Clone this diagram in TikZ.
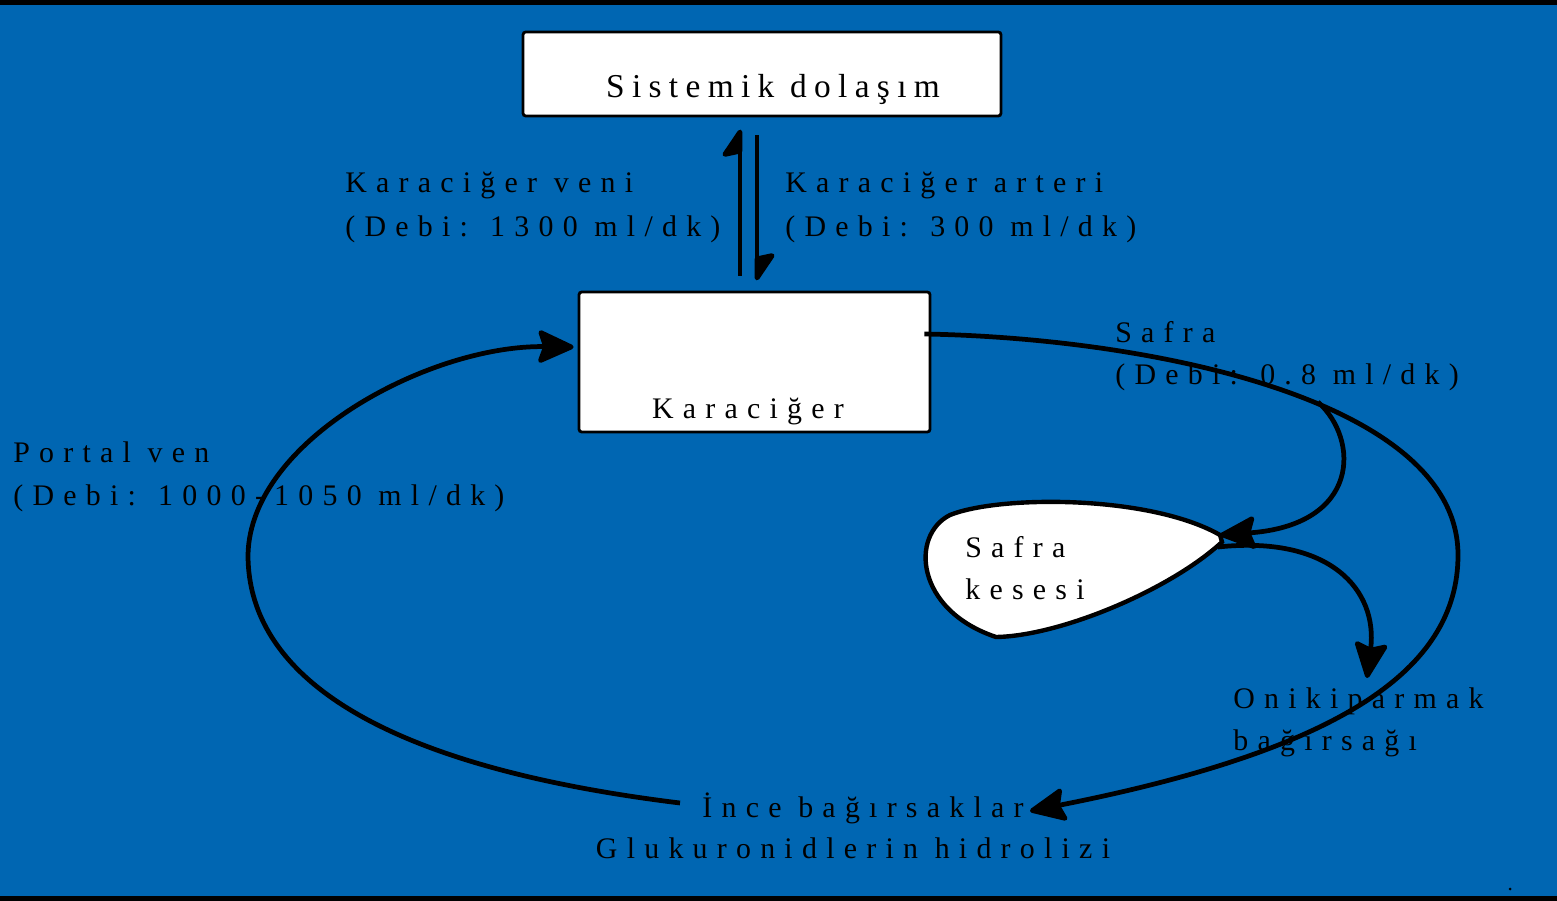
\documentclass[tikz,border=0pt]{standalone}
\usepackage{fontspec}
\setmainfont{Liberation Serif}
\newfontfamily\spacedfont[LetterSpace=31]{Liberation Serif}
\newfontfamily\spacedbig[LetterSpace=22]{Liberation Serif}
\usetikzlibrary{shapes,arrows.meta,positioning,calc}
\definecolor{bgblue}{RGB}{0,102,178}

\begin{document}
\begin{tikzpicture}[x=0.02cm, y=-0.02cm,
    box/.style={rectangle, draw, fill=white, line width=1.6pt, rounded corners=1.5pt},
    lbl/.style={font=\spacedfont\fontsize{17}{20}\selectfont, inner sep=0pt, anchor=base west},
    arrow/.style={-{Stealth[round, length=0.8cm, width=0.72cm, inset=0.12cm]}, line width=2.7pt},
    flow/.style={line width=2.5pt},
    barb/.style={-{Stealth[harpoon, round, length=0.6cm, width=0.8cm, inset=0.08cm]}, line width=2.8pt}
]
    % arka plan
    \useasboundingbox (0,0) rectangle (1557,901);
    \fill[bgblue] (0,0) rectangle (1557,901);
    \fill[black] (0,0) rectangle (1557,5);
    \fill[black] (0,896) rectangle (1557,901);

    % kutular
    \node[box, minimum width=9.56cm, minimum height=1.68cm] (sistemik) at (762,74) {};
    \node[lbl, anchor=base, font=\spacedbig\fontsize{19}{22}\selectfont] (sistemiktxt) at (773,98) {Sistemik dolaşım};
    \node[box, minimum width=7.02cm, minimum height=2.8cm] (karaciger) at (754.5,362) {};
    \node[lbl, anchor=base] (karacigertxt) at (748,419) {Karaciğer};

    % etiketler
    \node[lbl] (veni) at (345,193) {Karaciğer veni};
    \node[lbl] (venidebi) at (345,237) {(Debi: 1300 ml/dk)};
    \node[lbl] (arteri) at (785,193) {Karaciğer arteri};
    \node[lbl] (arteridebi) at (785,237) {(Debi: 300 ml/dk)};
    \node[lbl] (safra) at (1115,343) {Safra};
    \node[lbl] (safradebi) at (1115,385) {(Debi: 0.8 ml/dk)};
    \node[lbl] (portal) at (13,463) {Portal ven};
    \node[lbl] (portaldebi) at (13,505) {(Debi: 1000-1050 ml/dk)};
    \node[lbl] (oniki) at (1233,708) {Onikiparmak};
    \node[lbl] (onikib) at (1233,750) {bağırsağı};
    \node[lbl, anchor=base] (ince) at (863,817) {İnce bağırsaklar};
    \node[lbl, anchor=base] (gluk) at (853,858) {Glukuronidlerin hidrolizi};

    % safra kesesi
    \coordinate (kesetip) at (1220,535);
    \draw[flow, fill=white] (kesetip) .. controls (1150,495) and (1000,495) .. (950,515)
        .. controls (910,535) and (915,610) .. (996,637)
        .. controls (1060,636) and (1170,590) .. (1222,542) -- cycle;
    \node[lbl] (kese) at (965,557) {Safra};
    \node[lbl] (keseb) at (965,599) {kesesi};

    % baglanti noktalari
    \coordinate (safraout) at ($(karaciger.east)+(-7,-28)$);
    \coordinate (bigright) at (1458,555);
    \coordinate (branch) at (1318,402);
    \coordinate (incein) at (1030,811);
    \coordinate (keseout) at (1218,547);
    \coordinate (onikiin) at (1367,678);
    \coordinate (portalstart) at (680,803);
    \coordinate (portalleft) at (248,555);
    \coordinate (karacigerin) at ($(karaciger.west)+(-4,-15)$);

    % oklar
    \draw[barb] ($(karaciger.north)+(-14.5,-15)$) -- ++(0,-146);
    \draw[barb] ($(sistemik.south)+(-5,18)$) -- ++(0,145);
    \draw[arrow] (safraout) .. controls (1150,338) and (1458,400) .. (bigright)
        .. controls (1458,670) and (1340,750) .. (incein);
    \draw[arrow] (branch) .. controls (1360,440) and (1360,525) .. (kesetip);
    \draw[arrow] (keseout) .. controls (1330,535) and (1378,590) .. (onikiin);
    \draw[arrow] (portalstart) .. controls (330,760) and (248,650) .. (portalleft)
        .. controls (250,440) and (430,345) .. (karacigerin);

    \fill (1510,889) circle (1.5);
\end{tikzpicture}
\end{document}
